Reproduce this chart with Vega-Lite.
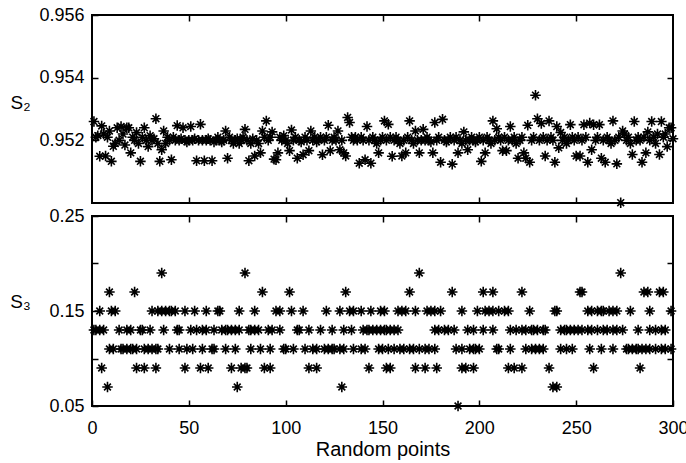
{
  "$schema": "https://vega.github.io/schema/vega-lite/v6.json",
  "padding": {"left": 8, "top": 5, "right": 5, "bottom": 5},
  "background": "white",
  "config": {
    "font": "Liberation Sans",
    "view": {"stroke": "black", "strokeWidth": 2},
    "axis": {
      "labelFont": "Liberation Sans", "labelFontSize": 18, "labelColor": "black", "labelFlush": false,
      "tickColor": "black", "tickWidth": 1.5, "tickSize": -6, "labelPadding": 14,
      "domain": false, "grid": false,
      "titleFont": "Liberation Sans", "titleColor": "black", "titleFontWeight": "normal"
    }
  },
  "datasets": {
    "s2": [
      {"x":1,"y":0.9526},{"x":2,"y":0.9521},{"x":3,"y":0.95215},{"x":4,"y":0.95149},{"x":5,"y":0.95246},{"x":6,"y":0.9522},{"x":7,"y":0.9515},{"x":8,"y":0.9521},{"x":9,"y":0.9523},{"x":10,"y":0.95133},
      {"x":11,"y":0.95181},{"x":12,"y":0.9519},{"x":13,"y":0.9524},{"x":14,"y":0.952},{"x":15,"y":0.95244},{"x":16,"y":0.9522},{"x":17,"y":0.95185},{"x":18,"y":0.9524},{"x":19,"y":0.9524},{"x":20,"y":0.9516},
      {"x":21,"y":0.9521},{"x":22,"y":0.952},{"x":23,"y":0.95225},{"x":24,"y":0.9519},{"x":25,"y":0.95133},{"x":26,"y":0.9521},{"x":27,"y":0.9524},{"x":28,"y":0.952},{"x":29,"y":0.9518},{"x":30,"y":0.95215},
      {"x":31,"y":0.952},{"x":32,"y":0.95205},{"x":33,"y":0.95269},{"x":34,"y":0.9519},{"x":35,"y":0.95133},{"x":36,"y":0.9517},{"x":37,"y":0.9523},{"x":38,"y":0.9519},{"x":39,"y":0.9521},{"x":40,"y":0.952},
      {"x":41,"y":0.95138},{"x":42,"y":0.9521},{"x":43,"y":0.952},{"x":44,"y":0.95247},{"x":45,"y":0.952},{"x":46,"y":0.95205},{"x":47,"y":0.9524},{"x":48,"y":0.952},{"x":49,"y":0.95195},{"x":50,"y":0.952},
      {"x":51,"y":0.95244},{"x":52,"y":0.952},{"x":53,"y":0.95205},{"x":54,"y":0.95135},{"x":55,"y":0.952},{"x":56,"y":0.95251},{"x":57,"y":0.952},{"x":58,"y":0.95135},{"x":59,"y":0.952},{"x":60,"y":0.95205},
      {"x":61,"y":0.952},{"x":62,"y":0.95135},{"x":63,"y":0.95195},{"x":64,"y":0.952},{"x":65,"y":0.9521},{"x":66,"y":0.952},{"x":67,"y":0.95195},{"x":68,"y":0.952},{"x":69,"y":0.9523},{"x":70,"y":0.95143},
      {"x":71,"y":0.9521},{"x":72,"y":0.952},{"x":73,"y":0.9519},{"x":74,"y":0.952},{"x":75,"y":0.95205},{"x":76,"y":0.9519},{"x":77,"y":0.952},{"x":78,"y":0.9521},{"x":79,"y":0.95235},{"x":80,"y":0.952},
      {"x":81,"y":0.95135},{"x":82,"y":0.9519},{"x":83,"y":0.95205},{"x":84,"y":0.9515},{"x":85,"y":0.952},{"x":86,"y":0.9519},{"x":87,"y":0.9516},{"x":88,"y":0.9523},{"x":89,"y":0.9521},{"x":90,"y":0.95262},
      {"x":91,"y":0.952},{"x":92,"y":0.9521},{"x":93,"y":0.95227},{"x":94,"y":0.9514},{"x":95,"y":0.95138},{"x":96,"y":0.9516},{"x":97,"y":0.9521},{"x":98,"y":0.952},{"x":99,"y":0.95215},{"x":100,"y":0.952},
      {"x":101,"y":0.9519},{"x":102,"y":0.95167},{"x":103,"y":0.95233},{"x":104,"y":0.952},{"x":105,"y":0.9521},{"x":106,"y":0.95143},{"x":107,"y":0.952},{"x":108,"y":0.95195},{"x":109,"y":0.95154},{"x":110,"y":0.9521},
      {"x":111,"y":0.952},{"x":112,"y":0.95167},{"x":113,"y":0.9523},{"x":114,"y":0.952},{"x":115,"y":0.9521},{"x":116,"y":0.95195},{"x":117,"y":0.952},{"x":118,"y":0.9521},{"x":119,"y":0.95154},{"x":120,"y":0.952},
      {"x":121,"y":0.9521},{"x":122,"y":0.95248},{"x":123,"y":0.95167},{"x":124,"y":0.952},{"x":125,"y":0.9521},{"x":126,"y":0.952},{"x":127,"y":0.9523},{"x":128,"y":0.9517},{"x":129,"y":0.952},{"x":130,"y":0.9516},
      {"x":131,"y":0.9515},{"x":132,"y":0.95273},{"x":133,"y":0.95257},{"x":134,"y":0.9521},{"x":135,"y":0.952},{"x":136,"y":0.9521},{"x":137,"y":0.952},{"x":138,"y":0.95127},{"x":139,"y":0.9521},{"x":140,"y":0.952},
      {"x":141,"y":0.95138},{"x":142,"y":0.95244},{"x":143,"y":0.952},{"x":144,"y":0.95127},{"x":145,"y":0.9521},{"x":146,"y":0.952},{"x":147,"y":0.9519},{"x":148,"y":0.9516},{"x":149,"y":0.952},{"x":150,"y":0.9521},
      {"x":151,"y":0.95262},{"x":152,"y":0.952},{"x":153,"y":0.95251},{"x":154,"y":0.9521},{"x":155,"y":0.95149},{"x":156,"y":0.952},{"x":157,"y":0.9521},{"x":158,"y":0.952},{"x":159,"y":0.9519},{"x":160,"y":0.9515},
      {"x":161,"y":0.952},{"x":162,"y":0.9516},{"x":163,"y":0.9521},{"x":164,"y":0.95262},{"x":165,"y":0.952},{"x":166,"y":0.9519},{"x":167,"y":0.9523},{"x":168,"y":0.952},{"x":169,"y":0.9516},{"x":170,"y":0.952},
      {"x":171,"y":0.95235},{"x":172,"y":0.952},{"x":173,"y":0.9521},{"x":174,"y":0.952},{"x":175,"y":0.95195},{"x":176,"y":0.9516},{"x":177,"y":0.95257},{"x":178,"y":0.952},{"x":179,"y":0.9521},{"x":180,"y":0.9513},
      {"x":181,"y":0.95267},{"x":182,"y":0.952},{"x":183,"y":0.95195},{"x":184,"y":0.952},{"x":185,"y":0.9521},{"x":186,"y":0.95124},{"x":187,"y":0.952},{"x":188,"y":0.9521},{"x":189,"y":0.9516},{"x":190,"y":0.952},
      {"x":191,"y":0.9519},{"x":192,"y":0.95227},{"x":193,"y":0.952},{"x":194,"y":0.9517},{"x":195,"y":0.952},{"x":196,"y":0.9521},{"x":197,"y":0.952},{"x":198,"y":0.95195},{"x":199,"y":0.952},{"x":200,"y":0.9521},
      {"x":201,"y":0.95133},{"x":202,"y":0.952},{"x":203,"y":0.9516},{"x":204,"y":0.9521},{"x":205,"y":0.952},{"x":206,"y":0.9519},{"x":207,"y":0.95262},{"x":208,"y":0.952},{"x":209,"y":0.95237},{"x":210,"y":0.9521},
      {"x":211,"y":0.952},{"x":212,"y":0.95167},{"x":213,"y":0.9521},{"x":214,"y":0.95167},{"x":215,"y":0.952},{"x":216,"y":0.95244},{"x":217,"y":0.952},{"x":218,"y":0.9521},{"x":219,"y":0.9519},{"x":220,"y":0.95143},
      {"x":221,"y":0.952},{"x":222,"y":0.9521},{"x":223,"y":0.9516},{"x":224,"y":0.95143},{"x":225,"y":0.95248},{"x":226,"y":0.9513},{"x":227,"y":0.952},{"x":228,"y":0.9521},{"x":229,"y":0.95344},{"x":230,"y":0.95269},
      {"x":231,"y":0.952},{"x":232,"y":0.95254},{"x":233,"y":0.9521},{"x":234,"y":0.9515},{"x":235,"y":0.952},{"x":236,"y":0.95262},{"x":237,"y":0.9521},{"x":238,"y":0.952},{"x":239,"y":0.9513},{"x":240,"y":0.95244},
      {"x":241,"y":0.95176},{"x":242,"y":0.95225},{"x":243,"y":0.952},{"x":244,"y":0.9521},{"x":245,"y":0.9519},{"x":246,"y":0.952},{"x":247,"y":0.9525},{"x":248,"y":0.9521},{"x":249,"y":0.952},{"x":250,"y":0.9515},
      {"x":251,"y":0.9521},{"x":252,"y":0.9515},{"x":253,"y":0.952},{"x":254,"y":0.9525},{"x":255,"y":0.9521},{"x":256,"y":0.9513},{"x":257,"y":0.95255},{"x":258,"y":0.9517},{"x":259,"y":0.9525},{"x":260,"y":0.952},
      {"x":261,"y":0.9521},{"x":262,"y":0.9525},{"x":263,"y":0.95143},{"x":264,"y":0.952},{"x":265,"y":0.9513},{"x":266,"y":0.9521},{"x":267,"y":0.952},{"x":268,"y":0.9519},{"x":269,"y":0.95262},{"x":270,"y":0.952},
      {"x":271,"y":0.95125},{"x":272,"y":0.9521},{"x":273,"y":0.95001},{"x":274,"y":0.9523},{"x":275,"y":0.9522},{"x":276,"y":0.952},{"x":277,"y":0.9521},{"x":278,"y":0.9519},{"x":279,"y":0.95155},{"x":280,"y":0.9526},
      {"x":281,"y":0.952},{"x":282,"y":0.9521},{"x":283,"y":0.952},{"x":284,"y":0.9513},{"x":285,"y":0.9521},{"x":286,"y":0.9516},{"x":287,"y":0.95227},{"x":288,"y":0.952},{"x":289,"y":0.9526},{"x":290,"y":0.9521},
      {"x":291,"y":0.9519},{"x":292,"y":0.9522},{"x":293,"y":0.95155},{"x":294,"y":0.9526},{"x":295,"y":0.9521},{"x":296,"y":0.9522},{"x":297,"y":0.9518},{"x":298,"y":0.9524},{"x":299,"y":0.9524},{"x":300,"y":0.95205}
    ],
    "s3": [
      {"x":36,"y":0.19},{"x":79,"y":0.19},{"x":169,"y":0.19},{"x":273,"y":0.19},
      {"x":9,"y":0.17},{"x":22,"y":0.17},{"x":88,"y":0.17},{"x":102,"y":0.17},{"x":131,"y":0.17},{"x":164,"y":0.17},{"x":186,"y":0.17},{"x":202,"y":0.17},{"x":207,"y":0.17},{"x":222,"y":0.17},{"x":252,"y":0.17},{"x":253,"y":0.17},{"x":285,"y":0.17},{"x":287,"y":0.17},{"x":293,"y":0.17},{"x":295,"y":0.17},
      {"x":4,"y":0.15},{"x":10,"y":0.15},{"x":12,"y":0.15},{"x":31,"y":0.15},{"x":34,"y":0.15},{"x":36,"y":0.15},{"x":38,"y":0.15},{"x":40,"y":0.15},{"x":41,"y":0.15},{"x":43,"y":0.15},{"x":48,"y":0.15},{"x":53,"y":0.15},{"x":59,"y":0.15},{"x":65,"y":0.15},{"x":66,"y":0.15},{"x":76,"y":0.15},{"x":84,"y":0.15},{"x":95,"y":0.15},{"x":97,"y":0.15},{"x":103,"y":0.15},{"x":109,"y":0.15},{"x":121,"y":0.15},{"x":128,"y":0.15},{"x":133,"y":0.15},{"x":135,"y":0.15},{"x":139,"y":0.15},{"x":144,"y":0.15},{"x":149,"y":0.15},{"x":151,"y":0.15},{"x":158,"y":0.15},{"x":160,"y":0.15},{"x":162,"y":0.15},{"x":167,"y":0.15},{"x":173,"y":0.15},{"x":175,"y":0.15},{"x":177,"y":0.15},{"x":180,"y":0.15},{"x":191,"y":0.15},{"x":199,"y":0.15},{"x":203,"y":0.15},{"x":205,"y":0.15},{"x":207,"y":0.15},{"x":210,"y":0.15},{"x":213,"y":0.15},{"x":215,"y":0.15},{"x":226,"y":0.15},{"x":239,"y":0.15},{"x":240,"y":0.15},{"x":256,"y":0.15},{"x":258,"y":0.15},{"x":261,"y":0.15},{"x":263,"y":0.15},{"x":264,"y":0.15},{"x":267,"y":0.15},{"x":269,"y":0.15},{"x":271,"y":0.15},{"x":278,"y":0.15},{"x":288,"y":0.15},{"x":299,"y":0.15},
      {"x":1,"y":0.13},{"x":2,"y":0.13},{"x":4,"y":0.13},{"x":6,"y":0.13},{"x":14,"y":0.13},{"x":18,"y":0.13},{"x":20,"y":0.13},{"x":25,"y":0.13},{"x":26,"y":0.13},{"x":30,"y":0.13},{"x":37,"y":0.13},{"x":44,"y":0.13},{"x":45,"y":0.13},{"x":51,"y":0.13},{"x":54,"y":0.13},{"x":57,"y":0.13},{"x":59,"y":0.13},{"x":63,"y":0.13},{"x":67,"y":0.13},{"x":69,"y":0.13},{"x":70,"y":0.13},{"x":72,"y":0.13},{"x":74,"y":0.13},{"x":76,"y":0.13},{"x":81,"y":0.13},{"x":82,"y":0.13},{"x":84,"y":0.13},{"x":86,"y":0.13},{"x":91,"y":0.13},{"x":93,"y":0.13},{"x":97,"y":0.13},{"x":106,"y":0.13},{"x":107,"y":0.13},{"x":112,"y":0.13},{"x":118,"y":0.13},{"x":124,"y":0.13},{"x":130,"y":0.13},{"x":134,"y":0.13},{"x":140,"y":0.13},{"x":142,"y":0.13},{"x":143,"y":0.13},{"x":145,"y":0.13},{"x":147,"y":0.13},{"x":149,"y":0.13},{"x":151,"y":0.13},{"x":152,"y":0.13},{"x":154,"y":0.13},{"x":156,"y":0.13},{"x":158,"y":0.13},{"x":177,"y":0.13},{"x":179,"y":0.13},{"x":182,"y":0.13},{"x":184,"y":0.13},{"x":187,"y":0.13},{"x":194,"y":0.13},{"x":197,"y":0.13},{"x":202,"y":0.13},{"x":207,"y":0.13},{"x":216,"y":0.13},{"x":219,"y":0.13},{"x":222,"y":0.13},{"x":224,"y":0.13},{"x":227,"y":0.13},{"x":228,"y":0.13},{"x":230,"y":0.13},{"x":233,"y":0.13},{"x":234,"y":0.13},{"x":242,"y":0.13},{"x":244,"y":0.13},{"x":245,"y":0.13},{"x":247,"y":0.13},{"x":249,"y":0.13},{"x":251,"y":0.13},{"x":253,"y":0.13},{"x":256,"y":0.13},{"x":258,"y":0.13},{"x":261,"y":0.13},{"x":264,"y":0.13},{"x":266,"y":0.13},{"x":269,"y":0.13},{"x":271,"y":0.13},{"x":274,"y":0.13},{"x":282,"y":0.13},{"x":288,"y":0.13},{"x":291,"y":0.13},{"x":294,"y":0.13},{"x":296,"y":0.13},
      {"x":9,"y":0.11},{"x":11,"y":0.11},{"x":15,"y":0.11},{"x":16,"y":0.11},{"x":18,"y":0.11},{"x":20,"y":0.11},{"x":21,"y":0.11},{"x":23,"y":0.11},{"x":27,"y":0.11},{"x":29,"y":0.11},{"x":31,"y":0.11},{"x":33,"y":0.11},{"x":34,"y":0.11},{"x":40,"y":0.11},{"x":45,"y":0.11},{"x":49,"y":0.11},{"x":52,"y":0.11},{"x":57,"y":0.11},{"x":62,"y":0.11},{"x":63,"y":0.11},{"x":69,"y":0.11},{"x":74,"y":0.11},{"x":82,"y":0.11},{"x":87,"y":0.11},{"x":92,"y":0.11},{"x":99,"y":0.11},{"x":100,"y":0.11},{"x":104,"y":0.11},{"x":110,"y":0.11},{"x":114,"y":0.11},{"x":116,"y":0.11},{"x":120,"y":0.11},{"x":122,"y":0.11},{"x":124,"y":0.11},{"x":125,"y":0.11},{"x":128,"y":0.11},{"x":130,"y":0.11},{"x":135,"y":0.11},{"x":139,"y":0.11},{"x":141,"y":0.11},{"x":148,"y":0.11},{"x":150,"y":0.11},{"x":153,"y":0.11},{"x":156,"y":0.11},{"x":159,"y":0.11},{"x":161,"y":0.11},{"x":164,"y":0.11},{"x":166,"y":0.11},{"x":169,"y":0.11},{"x":172,"y":0.11},{"x":174,"y":0.11},{"x":177,"y":0.11},{"x":188,"y":0.11},{"x":191,"y":0.11},{"x":195,"y":0.11},{"x":197,"y":0.11},{"x":198,"y":0.11},{"x":200,"y":0.11},{"x":209,"y":0.11},{"x":210,"y":0.11},{"x":216,"y":0.11},{"x":224,"y":0.11},{"x":227,"y":0.11},{"x":229,"y":0.11},{"x":231,"y":0.11},{"x":233,"y":0.11},{"x":242,"y":0.11},{"x":245,"y":0.11},{"x":248,"y":0.11},{"x":257,"y":0.11},{"x":263,"y":0.11},{"x":269,"y":0.11},{"x":276,"y":0.11},{"x":277,"y":0.11},{"x":279,"y":0.11},{"x":281,"y":0.11},{"x":282,"y":0.11},{"x":284,"y":0.11},{"x":286,"y":0.11},{"x":288,"y":0.11},{"x":291,"y":0.11},{"x":294,"y":0.11},{"x":296,"y":0.11},{"x":299,"y":0.11},
      {"x":5,"y":0.09},{"x":23,"y":0.09},{"x":27,"y":0.09},{"x":33,"y":0.09},{"x":48,"y":0.09},{"x":56,"y":0.09},{"x":60,"y":0.09},{"x":72,"y":0.09},{"x":77,"y":0.09},{"x":79,"y":0.09},{"x":80,"y":0.09},{"x":89,"y":0.09},{"x":92,"y":0.09},{"x":112,"y":0.09},{"x":116,"y":0.09},{"x":143,"y":0.09},{"x":152,"y":0.09},{"x":154,"y":0.09},{"x":167,"y":0.09},{"x":172,"y":0.09},{"x":178,"y":0.09},{"x":191,"y":0.09},{"x":193,"y":0.09},{"x":197,"y":0.09},{"x":215,"y":0.09},{"x":218,"y":0.09},{"x":222,"y":0.09},{"x":236,"y":0.09},{"x":259,"y":0.09},{"x":283,"y":0.09},
      {"x":8,"y":0.07},{"x":75,"y":0.07},{"x":129,"y":0.07},{"x":238,"y":0.07},{"x":240,"y":0.07},
      {"x":189,"y":0.05}
    ]
  },
  "spacing": 13,
  "bounds": "flush",
  "vconcat": [
    {
      "width": 581, "height": 188,
      "data": {"name": "s2"},
      "layer": [
        {
          "mark": {"type": "point", "shape": "M-1,0L1,0M0,-1L0,1M-0.65,-0.65L0.65,0.65M-0.65,0.65L0.65,-0.65", "filled": false, "stroke": "black", "strokeWidth": 1.6, "size": 110, "opacity": 1},
          "encoding": {
            "x": {"field": "x", "type": "quantitative", "scale": {"domain": [0, 300], "nice": false},
                  "axis": {"orient": "bottom", "labels": false, "title": null, "values": [50, 100, 150, 200, 250], "minExtent": 0, "maxExtent": 0}},
            "y": {"field": "y", "type": "quantitative", "scale": {"domain": [0.95, 0.956], "nice": false, "zero": false},
                  "axis": {"orient": "left", "values": [0.952, 0.954, 0.956], "format": ".3f", "title": "S₂", "titleAngle": 0, "titleAlign": "center", "titleBaseline": "middle", "titleX": -72, "titleY": 87, "titleFontSize": 19}}
          }
        },
        {
          "mark": {"type": "point", "opacity": 0},
          "encoding": {
            "x": {"field": "x", "type": "quantitative", "scale": {"domain": [0, 300], "nice": false},
                  "axis": {"orient": "top", "labels": false, "title": null, "values": [50, 100, 150, 200, 250], "minExtent": 0, "maxExtent": 0}},
            "y": {"field": "y", "type": "quantitative", "scale": {"domain": [0.95, 0.956], "nice": false, "zero": false},
                  "axis": {"orient": "right", "labels": false, "title": null, "values": [0.952, 0.954], "minExtent": 0, "maxExtent": 0}}
          }
        }
      ],
      "resolve": {"axis": {"x": "independent", "y": "independent"}}
    },
    {
      "width": 581, "height": 190,
      "data": {"name": "s3"},
      "layer": [
        {
          "mark": {"type": "point", "shape": "M-1,0L1,0M0,-1L0,1M-0.65,-0.65L0.65,0.65M-0.65,0.65L0.65,-0.65", "filled": false, "stroke": "black", "strokeWidth": 1.6, "size": 110, "opacity": 1},
          "encoding": {
            "x": {"field": "x", "type": "quantitative", "scale": {"domain": [0, 300], "nice": false},
                  "axis": {"orient": "bottom", "values": [0, 50, 100, 150, 200, 250, 300], "title": "Random points", "titleFontSize": 20, "titlePadding": 2, "labelPadding": 19}},
            "y": {"field": "y", "type": "quantitative", "scale": {"domain": [0.05, 0.25], "nice": false, "zero": false},
                  "axis": {"orient": "left", "values": [0.05, 0.1, 0.15, 0.2, 0.25], "labelExpr": "round(datum.value*100) % 10 == 5 ? format(datum.value, '.2f') : ''", "title": "S₃", "titleAngle": 0, "titleAlign": "center", "titleBaseline": "middle", "titleX": -72, "titleY": 85, "titleFontSize": 19}}
          }
        },
        {
          "mark": {"type": "point", "opacity": 0},
          "encoding": {
            "x": {"field": "x", "type": "quantitative", "scale": {"domain": [0, 300], "nice": false},
                  "axis": {"orient": "top", "labels": false, "title": null, "values": [50, 100, 150, 200, 250], "minExtent": 0, "maxExtent": 0}},
            "y": {"field": "y", "type": "quantitative", "scale": {"domain": [0.05, 0.25], "nice": false, "zero": false},
                  "axis": {"orient": "right", "labels": false, "title": null, "values": [0.1, 0.15, 0.2], "minExtent": 0, "maxExtent": 0}}
          }
        }
      ],
      "resolve": {"axis": {"x": "independent", "y": "independent"}}
    }
  ]
}
